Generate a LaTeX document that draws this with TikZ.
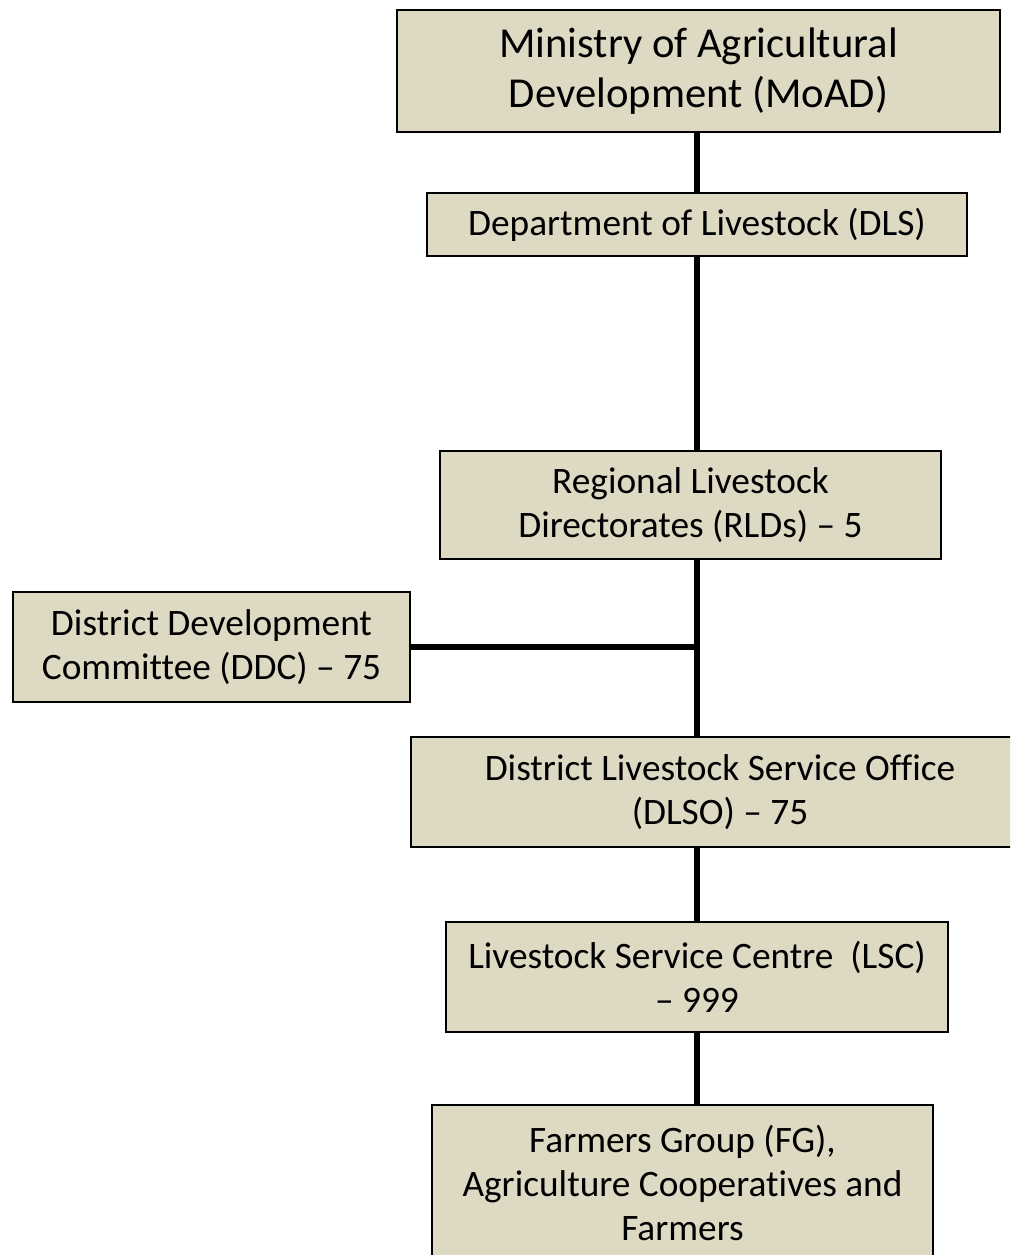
\documentclass[tikz,border=0pt]{standalone}
\usepackage{fontspec}
\setmainfont[Ligatures={NoCommon}]{Carlito}
\usepackage{tikz}
\usetikzlibrary{positioning}
\definecolor{boxfill}{HTML}{DDD9C3}

\begin{document}
\begin{tikzpicture}[x=0.75pt, y=-0.75pt,
    orgbox/.style={draw=black, line width=1.6pt, fill=boxfill, align=center, inner sep=0pt,
                   font=\fontsize{28}{33}\selectfont},
    link/.style={line width=4pt, black}]
  \useasboundingbox (0,0) rectangle (1010,1255);
  \clip (0,0) rectangle (1010,1255);

  % Ebenen von oben nach unten
  \node[orgbox, minimum width=452pt, minimum height=92pt, font=\fontsize{32}{37.5}\selectfont] (moad) at (698.5,71)
    {Ministry of Agricultural\\Development (MoAD)};
  \node[orgbox, minimum width=405pt, minimum height=47pt] (dls) at (697,224.5)
    {Department of Livestock (DLS)};
  \node[orgbox, minimum width=376pt, minimum height=81pt] (rld) at (690.5,505)
    {Regional Livestock\\Directorates (RLDs) -- 5};
  \node[orgbox, minimum width=298pt, minimum height=82pt] (ddc) at (211.5,647)
    {District Development\\Committee (DDC) -- 75};
  \node[orgbox, minimum width=464pt, minimum height=82pt] (dlso) at (720,792)
    {District Livestock Service Office\\(DLSO) -- 75};
  \node[orgbox, minimum width=376pt, minimum height=82pt] (lsc) at (697,977)
    {Livestock Service Centre\ \ (LSC)\\-- 999};
  \node[orgbox, minimum width=376pt, minimum height=117pt] (fg) at (682.5,1183)
    {Farmers Group (FG),\\Agriculture Cooperatives and\\Farmers};

  % Verbindungslinie
  \coordinate (spine) at (697,0);
  \draw[link] (spine |- moad.south) -- (spine |- dls.north);
  \draw[link] (spine |- dls.south) -- (spine |- rld.north);
  \draw[link] (spine |- rld.south) -- (spine |- dlso.north);
  \draw[link] (spine |- dlso.south) -- (spine |- lsc.north);
  \draw[link] (spine |- lsc.south) -- (spine |- fg.north);
  \draw[link] (ddc.east) -- (ddc.east -| spine);
\end{tikzpicture}
\end{document}
